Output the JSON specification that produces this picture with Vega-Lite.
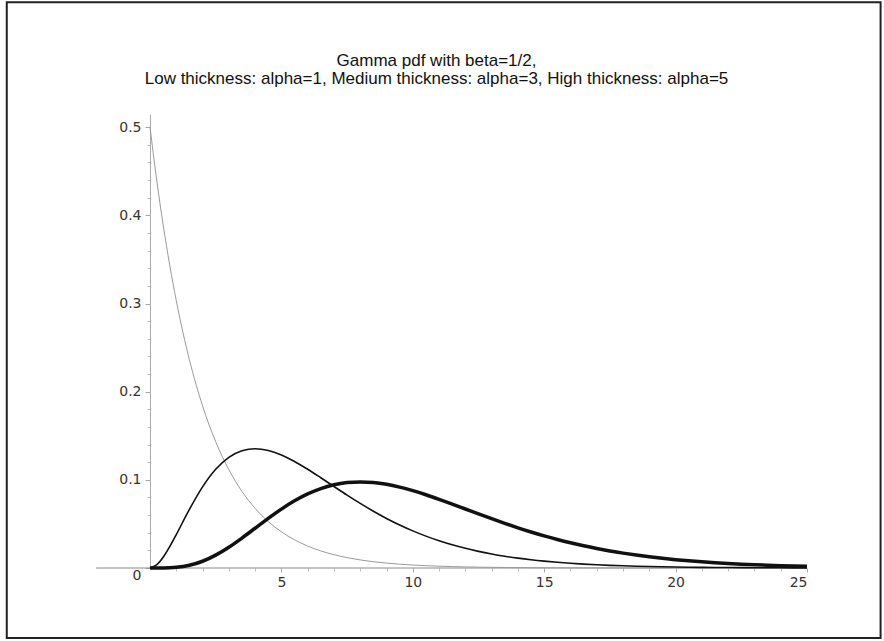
{
  "$schema": "https://vega.github.io/schema/vega-lite/v6.json",
  "width": 657,
  "height": 454,
  "autosize": {"type": "none"},
  "padding": {"left": 150, "top": 114, "right": 77, "bottom": 73},
  "background": "white",
  "title": {
    "text": ["Gamma pdf with beta=1/2,", "Low thickness: alpha=1, Medium thickness: alpha=3, High thickness: alpha=5"],
    "font": "Liberation Sans",
    "fontSize": 17,
    "fontWeight": "normal",
    "color": "#111",
    "lineHeight": 18,
    "anchor": "middle",
    "frame": "group",
    "dx": -42,
    "offset": -87
  },
  "data": {
    "values": [
      {"x": 0, "a1": 0.5, "a3": 0, "a5": 0},
      {"x": 0.25, "a1": 0.44125, "a3": 0.003447, "a5": 0.0000045},
      {"x": 0.5, "a1": 0.3894, "a3": 0.012169, "a5": 0.0000634},
      {"x": 0.75, "a1": 0.34364, "a3": 0.024162, "a5": 0.000283},
      {"x": 1, "a1": 0.30327, "a3": 0.037908, "a5": 0.00079},
      {"x": 1.5, "a1": 0.23618, "a3": 0.066427, "a5": 0.003114},
      {"x": 2, "a1": 0.18394, "a3": 0.09197, "a5": 0.007664},
      {"x": 2.5, "a1": 0.14325, "a3": 0.111916, "a5": 0.014572},
      {"x": 3, "a1": 0.11157, "a3": 0.125511, "a5": 0.023533},
      {"x": 3.5, "a1": 0.08689, "a3": 0.133046, "a5": 0.033954},
      {"x": 4, "a1": 0.06767, "a3": 0.135335, "a5": 0.045112},
      {"x": 4.5, "a1": 0.0527, "a3": 0.133396, "a5": 0.056276},
      {"x": 5, "a1": 0.04104, "a3": 0.128258, "a5": 0.066801},
      {"x": 5.5, "a1": 0.03196, "a3": 0.120864, "a5": 0.07617},
      {"x": 6, "a1": 0.02489, "a3": 0.112021, "a5": 0.084016},
      {"x": 6.5, "a1": 0.01939, "a3": 0.102388, "a5": 0.090123},
      {"x": 7, "a1": 0.0151, "a3": 0.092478, "a5": 0.094405},
      {"x": 7.5, "a1": 0.01176, "a3": 0.08268, "a5": 0.096891},
      {"x": 8, "a1": 0.00916, "a3": 0.073264, "a5": 0.097685},
      {"x": 8.5, "a1": 0.00713, "a3": 0.064411, "a5": 0.096952},
      {"x": 9, "a1": 0.00555, "a3": 0.056239, "a5": 0.094903},
      {"x": 9.5, "a1": 0.00433, "a3": 0.048801, "a5": 0.091756},
      {"x": 10, "a1": 0.00337, "a3": 0.042112, "a5": 0.087733},
      {"x": 10.5, "a1": 0.00262, "a3": 0.036159, "a5": 0.083053},
      {"x": 11, "a1": 0.00204, "a3": 0.030906, "a5": 0.077909},
      {"x": 11.5, "a1": 0.00159, "a3": 0.026308, "a5": 0.072484},
      {"x": 12, "a1": 0.00124, "a3": 0.022309, "a5": 0.066927},
      {"x": 12.5, "a1": 0.00097, "a3": 0.018853, "a5": 0.06137},
      {"x": 13, "a1": 0.00075, "a3": 0.01588, "a5": 0.055911},
      {"x": 13.5, "a1": 0.00059, "a3": 0.013337, "a5": 0.050639},
      {"x": 14, "a1": 0.00046, "a3": 0.011171, "a5": 0.045615},
      {"x": 14.5, "a1": 0.00036, "a3": 0.009332, "a5": 0.040876},
      {"x": 15, "a1": 0.00028, "a3": 0.007778, "a5": 0.036459},
      {"x": 15.5, "a1": 0.00022, "a3": 0.006468, "a5": 0.032374},
      {"x": 16, "a1": 0.00017, "a3": 0.005367, "a5": 0.028624},
      {"x": 16.5, "a1": 0.00013, "a3": 0.004445, "a5": 0.025211},
      {"x": 17, "a1": 0.0001, "a3": 0.003675, "a5": 0.022127},
      {"x": 17.5, "a1": 0.00008, "a3": 0.003033, "a5": 0.019351},
      {"x": 18, "a1": 0.00006, "a3": 0.002499, "a5": 0.016868},
      {"x": 18.5, "a1": 0.00005, "a3": 0.002056, "a5": 0.01466},
      {"x": 19, "a1": 0.00004, "a3": 0.001689, "a5": 0.012703},
      {"x": 19.5, "a1": 0.00003, "a3": 0.001385, "a5": 0.010972},
      {"x": 20, "a1": 0.00002, "a3": 0.001135, "a5": 0.009458},
      {"x": 20.5, "a1": 0.00002, "a3": 0.000929, "a5": 0.008134},
      {"x": 21, "a1": 0.00001, "a3": 0.000759, "a5": 0.006973},
      {"x": 21.5, "a1": 0.00001, "a3": 0.00062, "a5": 0.005971},
      {"x": 22, "a1": 0.00001, "a3": 0.000505, "a5": 0.005092},
      {"x": 22.5, "a1": 0.00001, "a3": 0.000412, "a5": 0.004345},
      {"x": 23, "a1": 0.00001, "a3": 0.000335, "a5": 0.003692},
      {"x": 23.5, "a1": 0, "a3": 0.000272, "a5": 0.003129},
      {"x": 24, "a1": 0, "a3": 0.000221, "a5": 0.002652},
      {"x": 24.5, "a1": 0, "a3": 0.00018, "a5": 0.002251},
      {"x": 25, "a1": 0, "a3": 0.000146, "a5": 0.001901}
    ]
  },
  "resolve": {"axis": {"x": "independent", "y": "independent"}},
  "layer": [
    {
      "data": {"values": [{}]},
      "mark": {"type": "rect", "fill": null, "stroke": "#222", "strokeWidth": 2},
      "encoding": {
        "x": {"datum": -5.45, "type": "quantitative", "scale": {"domain": [0, 25], "nice": false}, "axis": null},
        "x2": {"datum": 27.8},
        "y": {"datum": 0.6417, "type": "quantitative", "scale": {"domain": [0, 0.515], "nice": false}, "axis": null},
        "y2": {"datum": -0.0795}
      }
    },
    {
      "data": {"values": [{}]},
      "mark": {"type": "rule", "color": "#8a8a8a", "strokeWidth": 1},
      "encoding": {
        "x": {"datum": -2.05, "type": "quantitative", "axis": null},
        "x2": {"datum": 25},
        "y": {"datum": 0, "type": "quantitative", "axis": null}
      }
    },
    {
      "mark": {"type": "line", "color": "#9a9a9a", "strokeWidth": 1, "interpolate": "monotone"},
      "encoding": {
        "x": {
          "field": "x", "type": "quantitative",
          "scale": {"domain": [0, 25], "nice": false},
          "axis": {
            "title": null, "values": [5, 10, 15, 20, 25], "domain": false, "grid": false, "orient": "bottom",
            "tickColor": "#aaa", "tickSize": 4, "labelPadding": 3,
            "labelFont": "DejaVu Sans", "labelFontSize": 14, "labelColor": "#333"
          }
        },
        "y": {
          "field": "a1", "type": "quantitative",
          "scale": {"domain": [0, 0.515], "nice": false},
          "axis": {
            "title": null, "values": [0, 0.1, 0.2, 0.3, 0.4, 0.5], "format": "~g", "orient": "left",
            "domain": true, "domainColor": "#aaa", "grid": false,
            "tickColor": "#aaa", "tickSize": 5, "labelPadding": 4,
            "labelFont": "DejaVu Sans", "labelFontSize": 14, "labelColor": "#333",
            "labelBaseline": {"condition": {"test": "datum.value === 0", "value": "top"}, "value": "middle"}
          }
        }
      }
    },
    {
      "mark": {"type": "line", "color": "#111", "strokeWidth": 1.6, "interpolate": "monotone"},
      "encoding": {
        "x": {
          "field": "x", "type": "quantitative",
          "axis": {
            "title": null, "values": [1, 2, 3, 4, 6, 7, 8, 9, 11, 12, 13, 14, 16, 17, 18, 19, 21, 22, 23, 24],
            "labels": false, "domain": false, "grid": false, "tickColor": "#bbb", "tickSize": 3, "orient": "bottom"
          }
        },
        "y": {
          "field": "a3", "type": "quantitative",
          "axis": {
            "title": null, "values": [0.02, 0.04, 0.06, 0.08, 0.12, 0.14, 0.16, 0.18, 0.22, 0.24, 0.26, 0.28, 0.32, 0.34, 0.36, 0.38, 0.42, 0.44, 0.46, 0.48],
            "labels": false, "domain": false, "grid": false, "tickColor": "#bbb", "tickSize": 3, "orient": "left"
          }
        }
      }
    },
    {
      "mark": {"type": "line", "color": "#111", "strokeWidth": 3.5, "interpolate": "monotone"},
      "encoding": {
        "x": {"field": "x", "type": "quantitative", "axis": null},
        "y": {"field": "a5", "type": "quantitative", "axis": null}
      }
    }
  ],
  "config": {
    "view": {"stroke": null}
  }
}
